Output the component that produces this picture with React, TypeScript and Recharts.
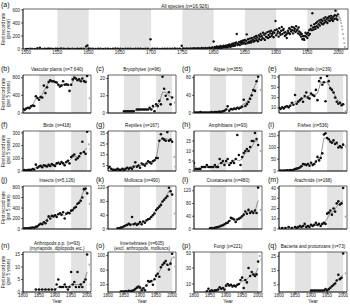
import React from "react"
import { ComposedChart, Scatter, Line, XAxis, YAxis, ReferenceArea } from "recharts"

const FONT = "'Liberation Sans', Arial, sans-serif"

// ---------- (a) all species, first records per year ----------
const A_YEARS = [
  1500, 1503, 1507, 1510, 1514, 1518, 1522, 1526, 1530, 1533,
  1535, 1537, 1540, 1543, 1547, 1550, 1553, 1556, 1560, 1563,
  1567, 1570, 1574, 1578, 1582, 1585, 1588, 1592, 1596, 1598,
  1600, 1603, 1607, 1611, 1615, 1619, 1623, 1627, 1631, 1635,
  1639, 1643, 1647, 1651, 1655, 1659, 1663, 1667, 1671, 1675,
  1679, 1683, 1687, 1691, 1695, 1699, 1702, 1706, 1710, 1714,
  1718, 1722, 1726, 1730, 1734, 1738, 1742, 1746, 1749, 1751,
  1754, 1757, 1760, 1763, 1766, 1769, 1772, 1775, 1778, 1781,
  1784, 1787, 1790, 1793, 1796, 1798,
  1800, 1801, 1802, 1803, 1804, 1805, 1806, 1807, 1808, 1809,
  1810, 1811, 1812, 1813, 1814, 1815, 1816, 1817, 1818, 1819,
  1820, 1821, 1822, 1823, 1824, 1825, 1826, 1827, 1828, 1829,
  1830, 1831, 1832, 1833, 1834, 1835, 1836, 1837, 1838, 1839,
  1840, 1841, 1842, 1843, 1844, 1845, 1846, 1847, 1848, 1849,
  1850, 1851, 1852, 1853, 1854, 1855, 1856, 1857, 1858, 1859,
  1860, 1861, 1862, 1863, 1864, 1865, 1866, 1867, 1868, 1869,
  1870, 1871, 1872, 1873, 1874, 1875, 1876, 1877, 1878, 1879,
  1880, 1881, 1882, 1883, 1884, 1885, 1886, 1887, 1888, 1889,
  1890, 1891, 1892, 1893, 1894, 1895, 1896, 1897, 1898, 1899,
  1900, 1901, 1902, 1903, 1904, 1905, 1906, 1907, 1908, 1909,
  1910, 1911, 1912, 1913, 1914, 1915, 1916, 1917, 1918, 1919,
  1920, 1921, 1922, 1923, 1924, 1925, 1926, 1927, 1928, 1929,
  1930, 1931, 1932, 1933, 1934, 1935, 1936, 1937, 1938, 1939,
  1940, 1941, 1942, 1943, 1944, 1945, 1946, 1947, 1948, 1949,
  1950, 1951, 1952, 1953, 1954, 1955, 1956, 1957, 1958, 1959,
  1960, 1961, 1962, 1963, 1964, 1965, 1966, 1967, 1968, 1969,
  1970, 1971, 1972, 1973, 1974, 1975, 1976, 1977, 1978, 1979,
  1980, 1981, 1982, 1983, 1984, 1985, 1986, 1987, 1988, 1989,
  1990, 1991, 1992, 1993, 1994, 1995, 1996, 1997, 1998, 1999,
]
const A_RATES = [
  2, 1, 3, 1, 2, 12, 20, 2, 4, 1,
  3, 6, 3, 2, 5, 4, 2, 8, 3, 2,
  4, 2, 3, 1, 4, 2, 3, 5, 40, 55,
  8, 3, 5, 2, 4, 6, 2, 3, 5, 2,
  4, 8, 3, 5, 2, 4, 3, 6, 2, 4,
  3, 5, 2, 4, 6, 150, 4, 3, 5, 2,
  4, 6, 3, 5, 4, 7, 3, 6, 50, 8,
  5, 9, 6, 10, 7, 12, 8, 14, 10, 15,
  12, 18, 14, 20, 16, 22,
  115, 18, 30, 10, 25, 40, 22, 15, 35, 28,
  20, 45, 30, 15, 38, 25, 50, 30, 42, 28,
  55, 35, 25, 60, 40, 70, 45, 30, 65, 50,
  80, 45, 60, 90, 50, 75, 100, 230, 60, 85,
  70, 110, 60, 95, 120, 75, 105, 130, 85, 100,
  140, 80, 125, 225, 90, 150, 110, 95, 160, 120,
  100, 170, 130, 145, 110, 185, 125, 160, 200, 135,
  175, 120, 210, 150, 190, 230, 140, 200, 165, 250,
  160, 220, 140, 240, 190, 180, 260, 170, 215, 270,
  185, 240, 280, 200, 230, 260, 180, 250, 290, 430,
  210, 300, 240, 270, 190, 320, 250, 220, 280, 340,
  230, 290, 310, 250, 200, 260, 220, 170, 240, 280,
  250, 320, 230, 300, 270, 340, 290, 240, 330, 280,
  310, 260, 350, 280, 300, 240, 330, 270, 220, 250,
  190, 230, 150, 200, 160, 140, 200, 250, 190, 230,
  170, 250, 210, 290, 230, 310, 360, 290, 550, 330,
  300, 380, 340, 310, 400, 350, 420, 330, 380, 440,
  360, 410, 450, 390, 430, 380, 470, 400, 440, 490,
  420, 460, 400, 480, 440, 500, 430, 470, 510, 450,
  480, 430, 500, 460, 520, 590, 470, 510, 450, 530,
]
const A_GREY_YEARS = [2000, 2001, 2002, 2003, 2004, 2005, 2006, 2007, 2008, 2009, 2010]
const A_GREY_RATES = [510, 490, 470, 440, 400, 350, 300, 230, 160, 90, 30]

// ---------- (b)-(q): first records per 5 years ----------
const YEARS5 = [
  1800, 1805, 1810, 1815, 1820, 1825, 1830, 1835, 1840, 1845,
  1850, 1855, 1860, 1865, 1870, 1875, 1880, 1885, 1890, 1895,
  1900, 1905, 1910, 1915, 1920, 1925, 1930, 1935, 1940, 1945,
  1950, 1955, 1960, 1965, 1970, 1975, 1980, 1985, 1990, 1995,
  2000,
]
const YEARS10 = [
  1800, 1810, 1820, 1830, 1840, 1850, 1860, 1870, 1880, 1890,
  1900, 1910, 1920, 1930, 1940, 1950, 1960, 1970, 1980, 1990,
  2000,
]
const _ = null

const plantsPts = [90, 70, 100, 120, 110, 150, 170, 160, 380, 340, 300, 360, 350, 620, 450, 580, 700, 740, 720, 720, 700, 690, 640, 600, 620, 720, 640, 650, 640, 500, 640, 760, 800, 780, 740, 760, 720, 780, 720, 700, 840]
const plantsLine = [90, 100, 120, 160, 330, 340, 420, 560, 690, 720, 700, 640, 640, 650, 620, 640, 770, 760, 750, 740, 720]
const plantsGrey = [[2008, 330]]

const bryoPts = [_, _, _, _, _, _, _, _, _, _, 1, 1, 1, 1, 1, 1, 1, _, 2, 2, 2, 2, 2, 2, 2, 2, 3, 2, 4, 1, 5, 4, 7, 5, 21, 14, 10, 8, 12, 5, 9]
const bryoLine = [_, _, _, _, _, 1, 1, 1, 1, 2, 2, 2, 2, 2, 3, 4, 6, 12, 12, 10, 9]
const bryoGrey = [[2008, 6]]

const algaePts = [1, 1, 1, 1, 2, 1, 1, 1, 1, 1, 1, 2, 1, 2, 2, 2, 3, 2, 4, 5, 8, 15, 5, 9, 8, 10, 9, 12, 10, 12, 14, 30, 16, 20, 25, 32, 40, 52, 50, 72, 82]
const algaeLine = [1, 1, 1, 1, 1, 1, 2, 2, 3, 5, 9, 8, 10, 11, 13, 18, 22, 30, 45, 62, 78]
const algaeGrey = [[2008, 52]]

const mammalPts = [10, 8, 11, 9, 12, 13, 11, 14, 20, 16, 35, 18, 22, 25, 28, 22, 33, 40, 30, 28, 38, 35, 33, 45, 25, 62, 68, 55, 60, 23, 72, 62, 48, 45, 40, 30, 22, 18, 20, 15, 17]
const mammalLine = [10, 10, 12, 14, 17, 22, 24, 27, 30, 33, 36, 36, 38, 60, 60, 60, 50, 40, 28, 20, 17]
const mammalGrey = [[2008, 3]]

const birdPts = [5, 8, 5, 7, 10, 8, 15, 12, 50, 25, 35, 40, 30, 45, 40, 35, 48, 40, 55, 45, 40, 60, 65, 55, 70, 60, 45, 70, 80, 60, 110, 120, 130, 90, 100, 115, 140, 230, 150, 135, 310]
const birdLine = [5, 6, 10, 15, 30, 38, 40, 45, 48, 50, 52, 58, 62, 62, 70, 95, 115, 110, 130, 160, 180]
const birdGrey = [[2005, 210], [2010, 170]]

const reptilePts = [3, 4, 2, 1, 1, 1, 2, 1, 1, 2, 1, 2, 3, 2, 3, 2, 4, 8, 4, 5, 3, 7, 6, 5, 7, 9, 8, 7, 9, 10, 12, 12, 28, 34, 30, 29, 28, 36, 28, 29, 27]
const reptileLine = [3, 2, 1, 1, 1, 2, 2, 3, 5, 5, 5, 6, 7, 8, 9, 11, 28, 30, 30, 29, 28]
const reptileGrey = [[2007, 13], [2010, 4]]

const amphPts = [4, 1, 1, 1, 1, 2, 2, 2, 3, 2, 2, 2, 2, 3, 2, 2, 6, 4, 5, 3, 5, 6, 3, 4, 5, 4, 6, 18, 8, 3, 7, 9, 10, 11, 10, 12, 15, 15, 19, 16, 13]
const amphLine = [3, 1, 2, 2, 2, 2, 2, 2, 4, 4, 4, 4, 4, 6, 5, 6, 9, 10, 12, 15, 15]
const amphGrey = [[2008, 10]]

const fishPts = [1, 2, 1, 2, 2, 3, 2, 4, 3, 5, 8, 10, 12, 15, 20, 30, 28, 25, 30, 22, 35, 25, 30, 40, 60, 45, 55, 75, 155, 160, 140, 135, 125, 120, 130, 115, 120, 100, 105, 100, 112]
const fishLine = [1, 2, 2, 3, 4, 9, 14, 25, 28, 28, 30, 32, 50, 60, 140, 140, 125, 122, 115, 105, 108]
const fishGrey = [[2008, 105]]

const insectPts = [10, 12, 15, 12, 20, 25, 30, 25, 40, 50, 80, 100, 90, 130, 110, 160, 240, 200, 250, 240, 260, 230, 280, 300, 270, 320, 200, 290, 310, 300, 350, 360, 400, 420, 480, 500, 540, 600, 760, 770, 680]
const insectLine = [10, 13, 20, 28, 45, 85, 110, 160, 230, 250, 250, 280, 290, 250, 300, 340, 410, 490, 580, 740, 700]
const insectGrey = [[2008, 480]]

const molluscPts = [_, _, _, _, _, _, 2, 2, 4, 5, 8, 10, 12, 15, 12, 35, 14, 16, 12, 15, 20, 14, 22, 18, 25, 28, 30, 35, 40, 45, 55, 60, 65, 70, 80, 85, 90, 95, 120, 110, 100]
const molluscLine = [_, _, _, 2, 4, 8, 12, 14, 15, 14, 17, 20, 26, 33, 42, 57, 67, 82, 92, 110, 100]
const molluscGrey = [[2008, 45]]

const crustPts = [_, _, _, _, _, _, _, _, _, _, 2, 3, 2, 4, 5, 6, 8, 10, 12, 15, 18, 20, 25, 35, 33, 30, 22, 30, 32, 35, 40, 45, 55, 48, 60, 50, 55, 50, 58, 50, 130]
const crustLine = [_, _, _, _, _, 2, 3, 6, 10, 14, 19, 25, 31, 27, 33, 40, 50, 55, 53, 54, 90]
const crustGrey = [[2008, 60]]

const arachPts = [1, _, 1, _, 1, _, 2, _, 1, _, 2, 1, 2, 3, 2, 3, 5, 2, 3, 2, 4, 3, 4, 6, 4, 5, 3, 5, 6, 5, 15, 16, 18, 14, 20, 17, 25, 27, 24, 25, 40]
const arachLine = [1, 1, 1, 2, 1, 2, 2, 3, 3, 3, 4, 4, 4, 4, 5, 10, 16, 17, 22, 25, 28]
const arachGrey = [[2008, 12]]

const arthroPts = [_, _, _, _, _, _, _, _, 1, _, 1, _, 1, _, 1, _, 1, _, 1, _, 1, 3, 5, 2, 2, 2, 3, 2, 1, 2, 8, 3, 4, 2, 8, 2, 3, 2, 4, 5, 15]
const arthroLine = [_, _, _, _, 1, 1, 1, 1, 1, 1, 1, 2, 2, 2, 2, 3, 3, 3, 3, 4, 8]
const arthroGrey = [[2007, 11], [2010, 3]]

const invertPts = [_, _, _, _, _, _, _, _, 1, 1, 1, 2, 1, 3, 2, 3, 5, 8, 12, 15, 12, 5, 10, 5, 18, 30, 28, 30, 20, 35, 45, 50, 42, 68, 75, 80, 85, 75, 62, 78, 105]
const invertLine = [_, _, _, _, 1, 1, 2, 3, 6, 12, 10, 8, 20, 28, 30, 45, 55, 75, 78, 72, 95]
const invertGrey = [[2005, 95], [2010, 70]]

const fungiPts = [_, _, _, _, _, _, _, _, 1, 4, 1, 2, 1, 2, 2, 3, 6, 4, 5, 3, 8, 10, 8, 9, 7, 8, 7, 9, 10, 15, 18, 5, 15, 12, 30, 20, 25, 22, 20, 22, 38]
const fungiLine = [_, _, _, _, 1, 2, 2, 3, 4, 5, 7, 8, 8, 8, 9, 14, 14, 18, 22, 22, 30]
const fungiGrey = [[2005, 45], [2010, 40]]

const bactPts = [_, _, _, _, _, _, _, _, _, _, _, _, _, _, _, _, _, _, _, _, 1, 1, 1, 1, 1, 1, 1, 1, 1, 2, 1, 2, 3, 4, 5, 6, 8, 12, 9, 10, 27]
const bactLine = [_, _, _, _, _, _, _, _, _, _, 1, 1, 1, 1, 1, 1, 3, 5, 8, 10, 12]
const bactGrey = [[2008, 13]]

// ---------- layout ----------
const COLS = [23, 108, 194, 279]
const ROWS = [
  { top: 75, h: 38 },
  { top: 131, h: 40 },
  { top: 186, h: 43 },
  { top: 252, h: 40 },
]
const PW = 68
const YW = 14
const SMALL_X = [1800, 2012]
const SMALL_TICKS = [1800, 1850, 1900, 1950, 2000]
const SMALL_BANDS = [[1850, 1900], [1950, 2000]]
const A_X = [1495, 2015]
const A_TICKS = [1500, 1550, 1600, 1650, 1700, 1750, 1800, 1850, 1900, 1950, 2000]
const A_BANDS = [[1550, 1600], [1650, 1700], [1750, 1800], [1850, 1900], [1950, 2000]]

const PANELS = [
  { id: "b", title: ["Vascular plants (n=7,640)"], row: 0, col: 0, yMax: 860, yTicks: [0, 200, 400, 600, 800], pts: plantsPts, line: plantsLine, grey: plantsGrey },
  { id: "c", title: ["Bryophytes (n=96)"], row: 0, col: 1, yMax: 22, yTicks: [0, 5, 10, 15, 20], pts: bryoPts, line: bryoLine, grey: bryoGrey },
  { id: "d", title: ["Algae (n=355)"], row: 0, col: 2, yMax: 86, yTicks: [0, 20, 40, 60, 80], pts: algaePts, line: algaeLine, grey: algaeGrey },
  { id: "e", title: ["Mammals (n=239)"], row: 0, col: 3, yMax: 74, yTicks: [0, 10, 20, 30, 40, 50, 60, 70], pts: mammalPts, line: mammalLine, grey: mammalGrey },
  { id: "f", title: ["Birds (n=418)"], row: 1, col: 0, yMax: 315, yTicks: [0, 50, 100, 150, 200, 250, 300], pts: birdPts, line: birdLine, grey: birdGrey },
  { id: "g", title: ["Reptiles (n=167)"], row: 1, col: 1, yMax: 37, yTicks: [0, 5, 10, 15, 20, 25, 30, 35], pts: reptilePts, line: reptileLine, grey: reptileGrey },
  { id: "h", title: ["Amphibians (n=93)"], row: 1, col: 2, yMax: 20, yTicks: [0, 5, 10, 15], pts: amphPts, line: amphLine, grey: amphGrey },
  { id: "i", title: ["Fishes (n=536)"], row: 1, col: 3, yMax: 170, yTicks: [0, 50, 100, 150], pts: fishPts, line: fishLine, grey: fishGrey },
  { id: "j", title: ["Insects (n=5,126)"], row: 2, col: 0, yMax: 820, yTicks: [0, 200, 400, 600, 800], pts: insectPts, line: insectLine, grey: insectGrey },
  { id: "k", title: ["Mollusca (n=490)"], row: 2, col: 1, yMax: 125, yTicks: [0, 20, 40, 60, 80, 100, 120], pts: molluscPts, line: molluscLine, grey: molluscGrey },
  { id: "l", title: ["Crustaceans (n=480)"], row: 2, col: 2, yMax: 135, yTicks: [0, 20, 40, 60, 80, 100, 120], pts: crustPts, line: crustLine, grey: crustGrey },
  { id: "m", title: ["Arachnids (n=168)"], row: 2, col: 3, yMax: 42, yTicks: [0, 10, 20, 30, 40], pts: arachPts, line: arachLine, grey: arachGrey },
  { id: "n", title: ["Arthropods p.p. (n=93)", "(myriapods, diplopods etc.)"], row: 3, col: 0, yMax: 16, yTicks: [0, 5, 10, 15], pts: arthroPts, line: arthroLine, grey: arthroGrey },
  { id: "o", title: ["Invertebrates (n=605)", "(excl. arthropods, molluscs)"], row: 3, col: 1, yMax: 110, yTicks: [0, 20, 40, 60, 80, 100], pts: invertPts, line: invertLine, grey: invertGrey },
  { id: "p", title: ["Fungi (n=221)"], row: 3, col: 2, yMax: 50, yTicks: [0, 10, 20, 30, 40, 50], pts: fungiPts, line: fungiLine, grey: fungiGrey },
  { id: "q", title: ["Bacteria and protozoans (n=73)"], row: 3, col: 3, yMax: 28, yTicks: [0, 5, 10, 15, 20, 25], pts: bactPts, line: bactLine, grey: bactGrey },
]
const LABEL_X = [1, 96, 182, 268]

const toPts = (xs: number[], ys: (number | null)[]) =>
  xs.map((x, i) => ({ x, y: ys[i] })).filter((d) => d.y !== null)

const tickStyle = { fontSize: 4.5, fill: "#222", fontFamily: FONT }
const dot = (fill: string, r: number) => (props: any) =>
  <circle cx={props.cx} cy={props.cy} r={r} fill={fill} />

function SmallPanel({ p }: { p: any }) {
  const r = ROWS[p.row]
  const bottomRow = p.row === 3
  const xh = bottomRow ? 9 : 3
  const pointData = toPts(YEARS5, p.pts)
  const lineData = toPts(YEARS10, p.line)
  const greyData = p.grey.map(([x, y]: number[]) => ({ x, y }))
  return (
    <div style={{ position: "absolute", left: COLS[p.col] - YW, top: r.top - 1 }}>
      <ComposedChart width={YW + PW + 1} height={r.h + 1 + xh} margin={{ top: 1, right: 1, bottom: 0, left: 0 }}>
        <XAxis type="number" dataKey="x" domain={SMALL_X} allowDataOverflow ticks={SMALL_TICKS} height={xh}
          tickSize={2} tickMargin={0} tick={bottomRow ? tickStyle : false} stroke="#000" strokeWidth={0.6} />
        <YAxis type="number" dataKey="y" domain={[0, p.yMax]} allowDataOverflow ticks={p.yTicks} width={YW}
          tickSize={2} tickMargin={1} tick={tickStyle} stroke="#000" strokeWidth={0.6} />
        {SMALL_BANDS.map(([a, b]) => (
          <ReferenceArea key={a} x1={a} x2={b} y1={0} y2={p.yMax} fill="#e3e3e3" fillOpacity={1} stroke="none" />
        ))}
        <Line data={lineData} dataKey="y" stroke="#555" strokeWidth={0.6} dot={false} isAnimationActive={false} />
        <Scatter data={pointData} shape={dot("#111", 1.3)} isAnimationActive={false} />
        <Scatter data={greyData} shape={dot("#aaa", 1.1)} isAnimationActive={false} />
        <ReferenceArea x1={SMALL_X[0]} x2={SMALL_X[1]} y1={0} y2={p.yMax} fill="none" stroke="#000" strokeWidth={0.6} />
      </ComposedChart>
    </div>
  )
}

function TopPanel() {
  const pointData = toPts(A_YEARS, A_RATES)
  const greyData = toPts(A_GREY_YEARS, A_GREY_RATES)
  return (
    <div style={{ position: "absolute", left: 23 - 12, top: 8 }}>
      <ComposedChart width={12 + 325 + 1} height={1 + 40 + 9} margin={{ top: 1, right: 1, bottom: 0, left: 0 }}>
        <XAxis type="number" dataKey="x" domain={A_X} allowDataOverflow ticks={A_TICKS} height={9}
          tickSize={2} tickMargin={0} tick={tickStyle} stroke="#000" strokeWidth={0.6} />
        <YAxis type="number" dataKey="y" domain={[0, 615]} allowDataOverflow ticks={[0, 100, 200, 300, 400, 500, 600]} width={12}
          tickSize={2} tickMargin={1} tick={tickStyle} stroke="#000" strokeWidth={0.6} />
        {A_BANDS.map(([a, b]) => (
          <ReferenceArea key={a} x1={a} x2={b} y1={0} y2={615} fill="#e3e3e3" fillOpacity={1} stroke="none" />
        ))}
        <Scatter data={pointData} shape={dot("#111", 1.2)} isAnimationActive={false} />
        <Scatter data={greyData} shape={dot("#aaa", 1.0)} isAnimationActive={false} />
        <ReferenceArea x1={A_X[0]} x2={A_X[1]} y1={0} y2={615} fill="none" stroke="#000" strokeWidth={0.6} />
      </ComposedChart>
    </div>
  )
}

function YTitle({ cy, lines }: { cy: number; lines: string[] }) {
  return (
    <g>
      {lines.map((t, i) => (
        <text key={i} x={4 + i * 5} y={cy} fontSize={4.6} textAnchor="middle" transform={`rotate(-90 ${4 + i * 5} ${cy})`} dominantBaseline="middle">
          {t}
        </text>
      ))}
    </g>
  )
}

export default function App() {
  return (
    <div style={{ position: "absolute", left: 0, top: 0, width: 350, height: 305, background: "#fff", overflow: "hidden" }}>
      <TopPanel />
      {PANELS.map((p) => <SmallPanel key={p.id} p={p} />)}
      <svg width={350} height={305} style={{ position: "absolute", left: 0, top: 0, pointerEvents: "none" }} fontFamily={FONT} fill="#111">
        <text x={1} y={7} fontSize={7}>(a)</text>
        <text x={185} y={7.5} fontSize={4.8} textAnchor="middle">All species (n=16,926)</text>
        <YTitle cy={29} lines={["First record rate", "(per year)"]} />
        {PANELS.map((p) => {
          const r = ROWS[p.row]
          const cx = COLS[p.col] + PW / 2
          const two = p.title.length > 1
          return (
            <g key={p.id}>
              <text x={LABEL_X[p.col]} y={r.top - 4} fontSize={7}>({p.id})</text>
              {p.title.map((t: string, i: number) => (
                <text key={i} x={cx} y={two ? r.top - 7 + i * 4.6 : r.top - 4} fontSize={4.6} textAnchor="middle">{t}</text>
              ))}
              {p.col === 0 && <YTitle cy={r.top + r.h / 2} lines={["First record rate", "(per 5 years)"]} />}
              {p.row === 3 && <text x={cx} y={303} fontSize={4.8} textAnchor="middle">Year</text>}
            </g>
          )
        })}
      </svg>
    </div>
  )
}
